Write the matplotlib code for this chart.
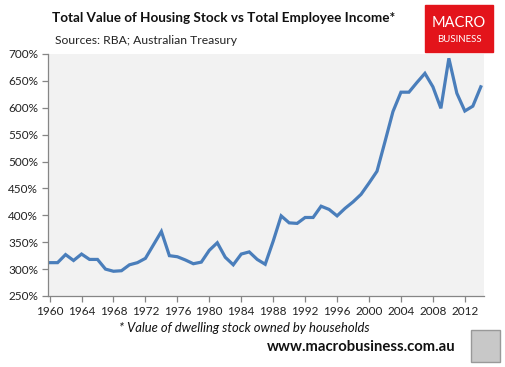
import numpy as np
from matplotlib import pyplot as plt
from matplotlib.patches import Rectangle

plt.rcParams['font.family'] = ['Lato', 'DejaVu Sans']

years = list(range(1960, 2015))
ratio = [312, 312, 327, 316, 328, 318, 318, 300, 296, 297,
         308, 312, 320, 345, 370, 325, 323, 317, 310, 313,
         335, 349, 322, 308, 328, 332, 318, 309, 352, 399,
         386, 385, 396, 396, 417, 411, 399, 413, 425, 439,
         460, 482, 537, 593, 629, 629, 647, 664, 639, 599,
         692, 627, 594, 603, 639]

yticks = list(range(250, 701, 50))
xticks = list(range(1960, 2013, 4))

fig = plt.figure(figsize=(5.06, 3.67), dpi=100)
ax = fig.add_axes([48/506, 1 - 296/367, (484 - 48)/506, (296 - 54)/367])
ax.set_facecolor('#f2f2f2')
ax.plot(years, ratio, color='#4a7ebb', lw=2.3, solid_joinstyle='miter')

ax.set_xlim(1959.8, 2014.4)
ax.set_ylim(250, 700)
ax.set_yticks(yticks)
ax.set_yticklabels([str(v) + '%' for v in yticks])
ax.set_xticks(xticks)
ax.set_xticklabels([str(v) for v in xticks])
for s in ['top', 'right']:
    ax.spines[s].set_visible(False)
for s in ['left', 'bottom']:
    ax.spines[s].set_color('#868686')
    ax.spines[s].set_linewidth(0.9)
ax.tick_params(axis='both', colors='#868686', labelcolor='#222222', labelsize=8.5,
               length=4, width=0.9, direction='out')
ax.tick_params(axis='y', pad=3)
ax.tick_params(axis='x', pad=3)

fig.text(52/506, 1 - 18/367, 'Total Value of Housing Stock vs Total Employee Income*',
         fontsize=9.7, fontweight='bold', va='center', color='#111111')
fig.text(55/506, 1 - 41/367, 'Sources: RBA; Australian Treasury',
         fontsize=8.7, va='center', color='#222222')
fig.text(244/506, 1 - 328/367, '* Value of dwelling stock owned by households',
         fontsize=9.4, style='italic', ha='center', va='center', color='#111111')
fig.text(455/506, 1 - 347/367, 'www.macrobusiness.com.au',
         fontsize=10.7, fontweight='bold', ha='right', va='center', color='#111111')

# logo box
fig.patches.append(Rectangle((425/506, 1 - 52/367), 68/506, 47/367,
                             transform=fig.transFigure, color='#e3141b', zorder=5))
fig.text(459/506, 1 - 23/367, 'MACRO', fontsize=10.5, color='white',
         ha='center', va='center', zorder=6)
fig.text(459/506, 1 - 39/367, 'BUSINESS', fontsize=7, color='white',
         ha='center', va='center', zorder=6)

# wolf picture placeholder
fig.patches.append(Rectangle((471/506, 1 - 362/367), 29/506, 32/367,
                             transform=fig.transFigure, facecolor='#c8c8c8',
                             edgecolor='#999999', lw=1, zorder=5))

fig.savefig('out.png', dpi=100)
